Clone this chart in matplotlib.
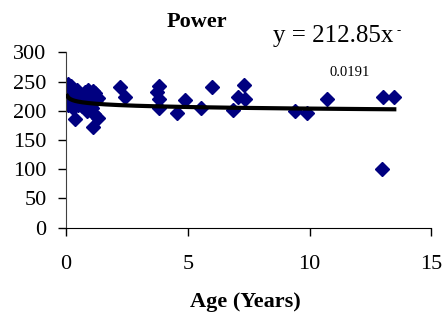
import matplotlib
matplotlib.use("Agg")
import matplotlib.pyplot as plt
import numpy as np

plt.rcParams['font.family'] = ['Liberation Serif', 'DejaVu Serif']

# Data (Age in years, Power)
age = [0.05, 0.10, 0.20, 0.30, 0.05, 0.10, 0.15, 0.20, 0.25, 0.35, 0.40, 0.45, 0.30, 0.50, 0.37, 0.08,
       0.70, 0.80, 0.90, 1.00, 1.10, 1.20, 0.75, 0.95, 1.05, 1.25, 1.30, 0.85, 1.15, 1.12, 1.33, 1.00, 0.65,
       2.22, 2.42, 3.83, 3.75, 3.83, 3.83, 4.57, 4.89, 5.54, 5.98, 6.84, 7.08, 7.32, 7.35,
       9.40, 9.88, 10.70, 13.03, 13.48, 12.99]
power = [240, 245, 243, 238, 225, 218, 230, 212, 222, 228, 215, 235, 205, 210, 186, 210,
         225, 232, 236, 228, 234, 230, 215, 212, 205, 218, 222, 200, 195, 172, 187, 220, 208,
         240, 223, 242, 232, 220, 204, 196, 218, 204, 241, 202, 224, 244, 220,
         200, 197, 220, 224, 224, 100]

coef_a = 212.85
coef_b = -0.0191

fig = plt.figure(figsize=(4.45, 3.21), dpi=100)
ax = fig.add_axes([66/445, 1 - 227.7/321, (431.3 - 66)/445, (227.7 - 52.3)/321])

ax.plot(age, power, linestyle='none', marker='D', markersize=7.2,
        color='#000080', markeredgecolor='#000080', zorder=2)

xs = np.linspace(min(age), max(age), 300)
ax.plot(xs, coef_a * xs ** coef_b, color='black', linewidth=3, zorder=3)

ax.set_xlim(0, 15)
ax.set_ylim(0, 300)
ax.set_xticks([0, 5, 10, 15])
ax.set_yticks([0, 50, 100, 150, 200, 250, 300])
ax.spines['top'].set_visible(False)
ax.spines['right'].set_visible(False)
ax.spines['left'].set_color('#404040')
ax.tick_params(axis='x', direction='out', length=6, width=1, pad=13.5, labelsize=16)
ax.tick_params(axis='y', direction='out', length=6, width=1, pad=8, labelsize=16)
ax.set_xlabel('Age (Years)', fontsize=16, fontweight='bold', va='center')
ax.xaxis.set_label_coords(0.5 - 3.5/365.3, (227.7 - 302) / 175.4)

fig.text(197/445, 1 - 22/321, 'Power', fontsize=16, fontweight='bold', ha='center', va='center')
fig.text(273/445, 1 - 36/321, 'y = 212.85x', fontsize=18, ha='left', va='center')
fig.text(397/445, 1 - 31/321, '-', fontsize=9, ha='left', va='center')
fig.text(350/445, 1 - 72/321, '0.0191', fontsize=10.5, ha='center', va='center')

fig.savefig('out.png', dpi=100)
